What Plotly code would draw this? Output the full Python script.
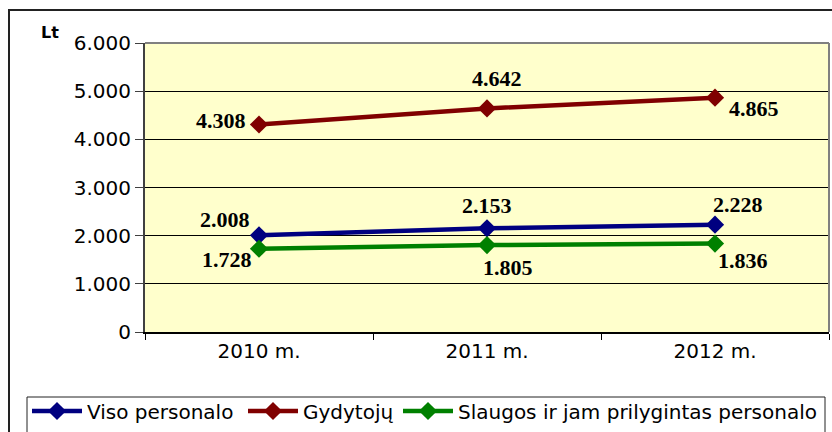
import plotly.graph_objects as go

categories = ["2010 m.", "2011 m.", "2012 m."]
series_names = ["Viso personalo", "Gydytojų", "Slaugos ir jam prilygintas personalo"]
viso = [2008, 2153, 2228]
gydytoju = [4308, 4642, 4865]
slaugos = [1728, 1805, 1836]
y_ticks = [0, 1000, 2000, 3000, 4000, 5000, 6000]

colors = ["#000080", "#800000", "#008000"]
values = [viso, gydytoju, slaugos]
# label offsets (px) per series/point: (xshift, yshift)
label_offsets = [
    [(-34, 16), (0, 23), (23, 20)],
    [(-38, 4), (10, 30), (39, -11)],
    [(-32, -11), (21, -22), (28, -17)],
]
legend_ids = ["legend", "legend2", "legend3"]
legend_x_px = [27, 243, 398]

L, R, T, B = 145, 3, 43, 100
W, H = 832, 432
pw = W - L - R
ph = H - T - B

def px_x(x):
    return (x - L) / pw

def px_y(y):
    return (H - B - y) / ph

fig = go.Figure()
for name, vals, col, lid in zip(series_names, values, colors, legend_ids):
    fig.add_trace(go.Scatter(
        x=categories, y=vals, name=name, mode="lines+markers",
        line=dict(color=col, width=4.5),
        marker=dict(symbol="diamond", size=14, color=col),
        legend=lid,
    ))

annotations = []
for vals, offs in zip(values, label_offsets):
    for c, v, (dx, dy) in zip(categories, vals, offs):
        annotations.append(dict(
            x=c, y=v, xref="x", yref="y", text=f"{v:,}".replace(",", "."),
            showarrow=False, xshift=dx, yshift=dy,
            font=dict(family="Liberation Serif", size=22, color="black", weight="bold"),
        ))
annotations.append(dict(
    x=px_x(50), y=px_y(32), xref="paper", yref="paper", text="<b>Lt</b>",
    xanchor="center", yanchor="middle",
    showarrow=False, font=dict(family="DejaVu Sans", size=16, color="black"),
))

shapes = [
    # outer frame
    dict(type="rect", xref="paper", yref="paper", x0=px_x(9), x1=px_x(850),
         y0=px_y(450), y1=px_y(10), line=dict(color="#222222", width=2)),
    # plot border top and right
    dict(type="line", xref="paper", yref="paper", x0=0, x1=1, y0=1, y1=1,
         line=dict(color="#808080", width=2)),
    dict(type="line", xref="paper", yref="paper", x0=1, x1=1, y0=0, y1=1,
         line=dict(color="#808080", width=2)),
    # legend box
    dict(type="rect", xref="paper", yref="paper", x0=px_x(27), x1=px_x(825),
         y0=px_y(450), y1=px_y(397), line=dict(color="#222222", width=1)),
]

legend_common = dict(
    orientation="h", xanchor="left", yanchor="middle",
    bgcolor="rgba(0,0,0,0)", borderwidth=0,
    font=dict(family="DejaVu Sans", size=20, color="black"),
    itemwidth=50,
)
layout_legends = {}
for lid, lx in zip(legend_ids, legend_x_px):
    layout_legends[lid] = dict(x=px_x(lx), y=px_y(411), **legend_common)

fig.update_layout(
    width=W, height=H, autosize=False,
    margin=dict(l=L, r=R, t=T, b=B, autoexpand=False),
    paper_bgcolor="white", plot_bgcolor="#FFFFCC",
    separators=",.",
    showlegend=True,
    annotations=annotations, shapes=shapes,
    font=dict(family="DejaVu Sans", size=20, color="black"),
    xaxis=dict(type="category", range=[-0.5, 2.5], tickson="boundaries",
               ticks="outside", ticklen=6, tickcolor="black",
               showline=True, linecolor="black", linewidth=2, showgrid=False,
               tickfont=dict(family="DejaVu Sans", size=20)),
    yaxis=dict(range=[0, 6000], tickvals=y_ticks, tickformat=",d",
               ticks="outside", ticklen=8, tickcolor="#404040",
               showline=True, linecolor="#404040", linewidth=2,
               showgrid=True, gridcolor="black", gridwidth=1, zeroline=False,
               tickfont=dict(family="DejaVu Sans", size=20)),
    **layout_legends,
)

fig.write_html(
    "out.html",
    config={"responsive": False, "displayModeBar": False},
    post_script="document.body.style.margin='0';document.body.style.padding='0';"
                "document.body.style.overflow='hidden';",
)
